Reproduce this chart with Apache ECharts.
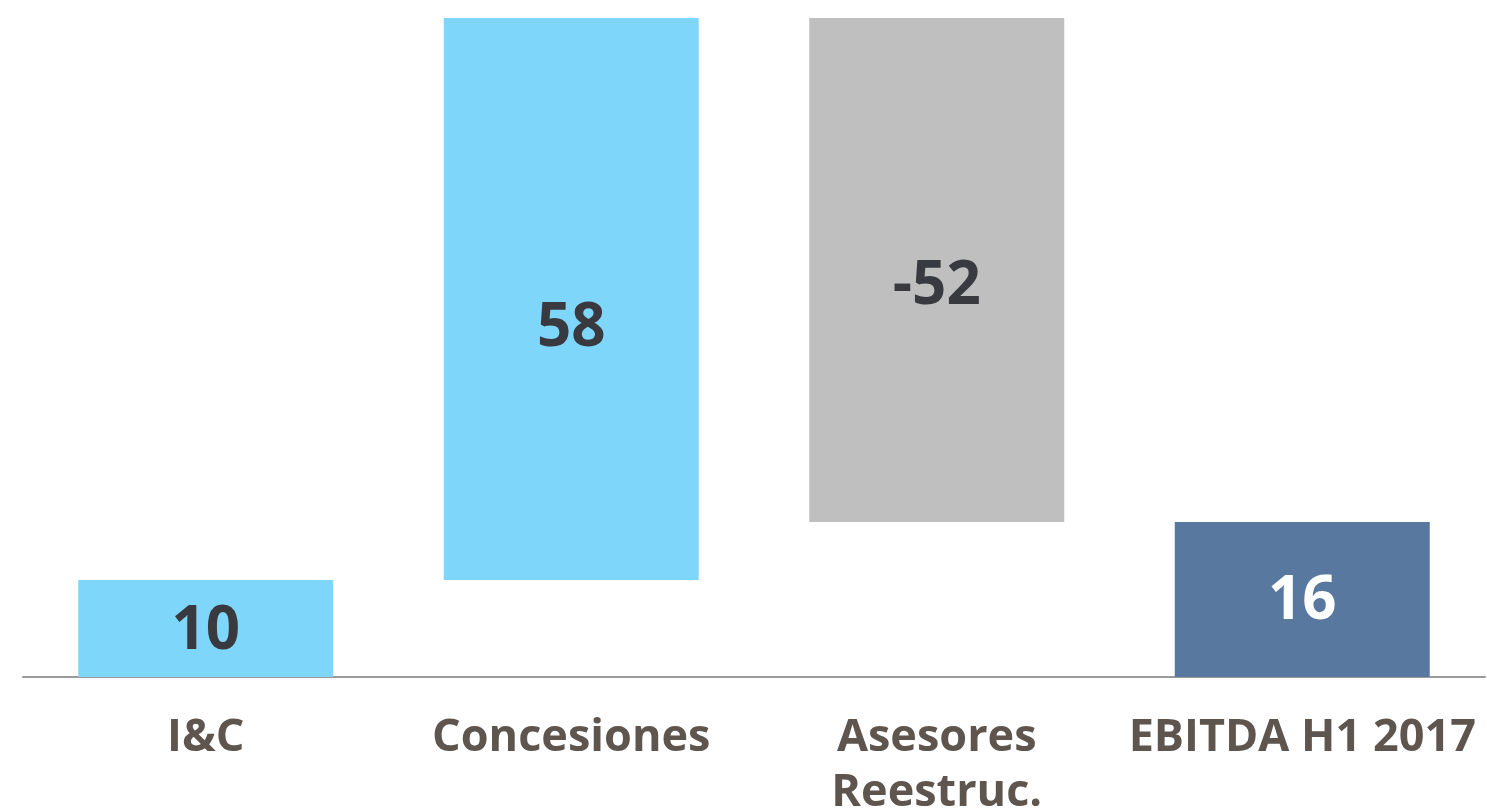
<!DOCTYPE html>
<html>
<head>
<meta charset="utf-8">
<script src="https://cdn.jsdelivr.net/npm/echarts@6/dist/echarts.min.js"></script>
<style>
html,body{margin:0;padding:0;background:#fff;}
#chart{width:1487px;height:812px;}
</style>
</head>
<body>
<div id="chart"></div>
<script>
const categories = ['I&C', 'Concesiones', 'Asesores\nReestruc.', 'EBITDA H1 2017'];
const changes = [10, 58, -52, 16];
const isTotal = [false, false, false, true];

const barColors = ['#7fd6fb', '#7fd6fb', '#bfbfbf', '#5878a0'];
const labelColors = ['#383a40', '#383a40', '#383a40', '#ffffff'];
const labelOffsets = [[0, 3], [0, 30], [0, 17], [0, 2]];

// waterfall: invisible base + visible bar
const baseVals = [];
const barVals = [];
let running = 0;
changes.forEach((v, i) => {
  if (isTotal[i]) {
    baseVals.push(0);
    barVals.push(v);
    running = v;
  } else if (v >= 0) {
    baseVals.push(running);
    barVals.push(v);
    running += v;
  } else {
    running += v;
    baseVals.push(running);
    barVals.push(-v);
  }
});

const chart = echarts.init(document.getElementById('chart'));
chart.setOption({
  animation: false,
  grid: { left: 23, right: 2, top: 18, bottom: 135, containLabel: false, outerBoundsMode: 'none' },
  xAxis: {
    type: 'category',
    data: categories,
    axisLine: { lineStyle: { color: '#9a9a9a', width: 2 } },
    axisTick: { show: false },
    axisLabel: {
      interval: 0,
      margin: 34,
      color: '#5e554e',
      fontFamily: 'Open Sans',
      fontWeight: 'bold',
      fontSize: 45,
      lineHeight: 55
    }
  },
  yAxis: {
    type: 'value',
    min: 0,
    max: 68,
    show: false,
    splitLine: { show: false }
  },
  series: [
    {
      type: 'bar',
      stack: 'w',
      data: baseVals,
      itemStyle: { color: 'transparent' },
      barWidth: 255,
      silent: true
    },
    {
      type: 'bar',
      stack: 'w',
      barWidth: 255,
      data: barVals.map((v, i) => ({
        value: v,
        itemStyle: { color: barColors[i] },
        label: {
          show: true,
          position: 'inside',
          offset: labelOffsets[i],
          formatter: String(changes[i]),
          color: labelColors[i],
          fontFamily: 'Open Sans',
          fontWeight: 'bold',
          fontSize: 60
        }
      }))
    }
  ]
});
</script>
</body>
</html>
